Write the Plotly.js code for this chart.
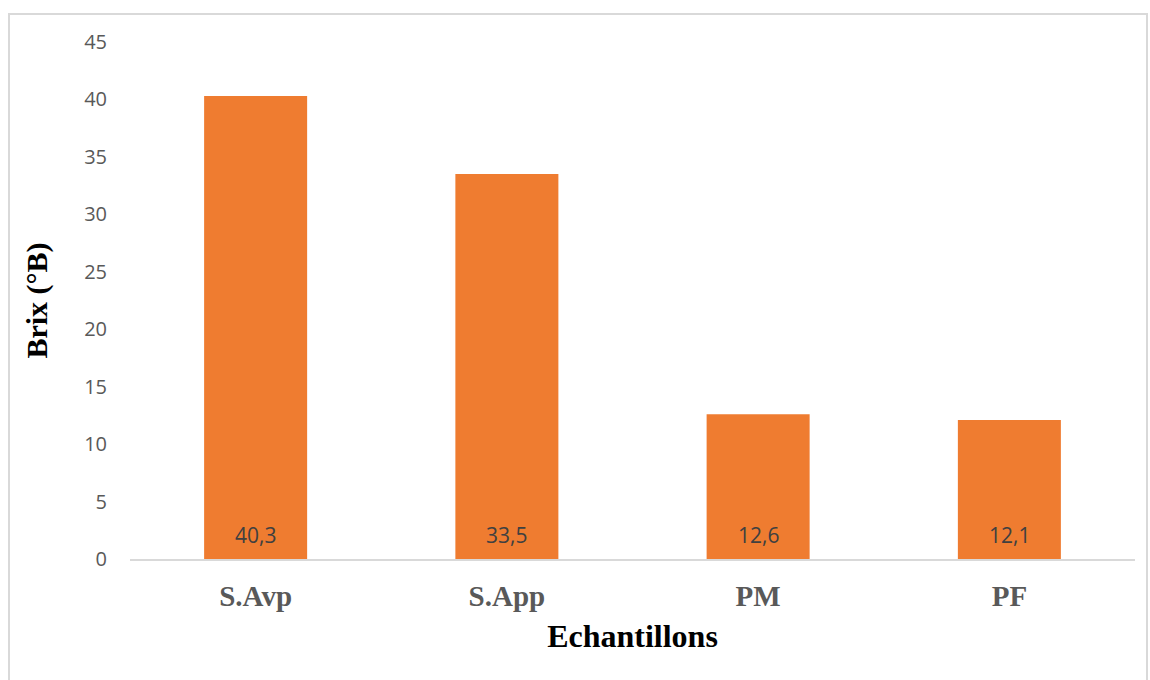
<!DOCTYPE html>
<html>
<head>
<meta charset="utf-8">
<script src="https://cdn.plot.ly/plotly-3.0.1.min.js"></script>
<style>
  html, body { margin: 0; padding: 0; background: #fff; }
  #wrap { position: relative; width: 1150px; height: 680px; }
  #chart { width: 1150px; height: 680px; }
  #frame {
    position: absolute; left: 8px; top: 13px; width: 1140px; height: 680px;
    border: 2px solid #d9d9d9; box-sizing: border-box; pointer-events: none;
  }
</style>
</head>
<body>
<div id="wrap">
  <div id="chart"></div>
  <div id="frame"></div>
</div>
<script>
// Brix measured for each sample
const samples = ["S.Avp", "S.App", "PM", "PF"];
const brix = [40.3, 33.5, 12.6, 12.1];
const yTicks = [0, 5, 10, 15, 20, 25, 30, 35, 40, 45];

// French decimal labels shown at the base of each bar
const labels = brix.map(v => v.toFixed(1).replace(".", ","));

const trace = {
  type: "bar",
  x: samples,
  y: brix,
  marker: { color: "#ef7c30", line: { width: 0 } },
  hoverinfo: "x+y"
};

// value labels anchored to the base of each bar
const valueNotes = samples.map((s, i) => ({
  x: s,
  y: 0,
  xref: "x",
  yref: "y",
  text: labels[i],
  showarrow: false,
  yanchor: "bottom",
  yshift: 8,
  font: { family: "Open Sans, sans-serif", size: 21, color: "#404040" }
}));

const layout = {
  width: 1150,
  height: 680,
  margin: { l: 130, r: 15, t: 42, b: 121 },
  paper_bgcolor: "#ffffff",
  plot_bgcolor: "#ffffff",
  bargap: 0.59,
  showlegend: false,
  annotations: valueNotes,
  xaxis: {
    showgrid: false,
    showline: true,
    linecolor: "#d9d9d9",
    linewidth: 2,
    ticks: "",
    ticklabelstandoff: 10,
    tickfont: { family: "Liberation Serif, Times New Roman, serif", size: 29, color: "#595959", weight: "bold" },
    title: {
      text: "<b>Echantillons</b>",
      font: { family: "Liberation Serif, Times New Roman, serif", size: 32, color: "#000000" },
      standoff: 14
    }
  },
  yaxis: {
    range: [0, 45],
    tickvals: yTicks,
    showgrid: false,
    zeroline: false,
    showline: false,
    ticks: "",
    ticklabelstandoff: 22,
    tickfont: { family: "Open Sans, sans-serif", size: 20, color: "#595959" },
    title: {
      text: "<b>Brix (°B)</b>",
      font: { family: "Liberation Serif, Times New Roman, serif", size: 30, color: "#000000" },
      standoff: 27
    }
  }
};

Plotly.newPlot("chart", [trace], layout, { displayModeBar: false, staticPlot: true });
</script>
</body>
</html>
